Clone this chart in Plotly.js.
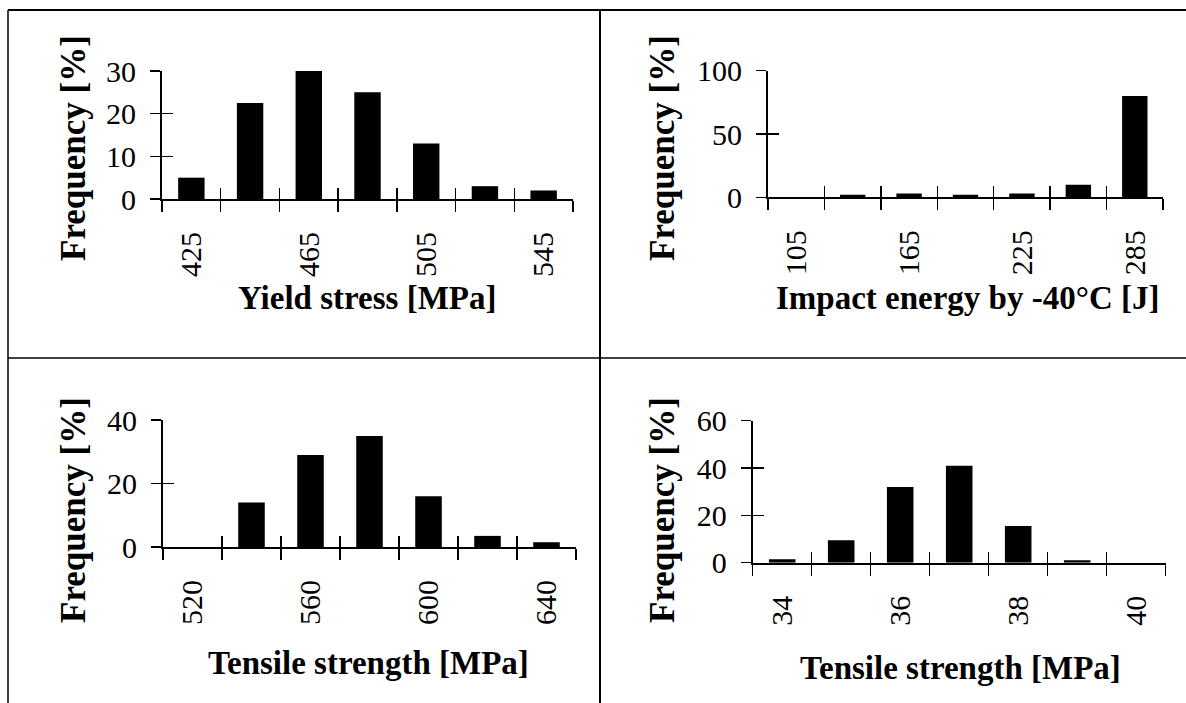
<!DOCTYPE html>
<html>
<head>
<meta charset="utf-8">
<script src="https://cdn.plot.ly/plotly-3.0.1.min.js"></script>
<style>
  html, body { margin: 0; padding: 0; background: #fff; }
  #chart { width: 1186px; height: 703px; }
</style>
</head>
<body>
<div id="chart"></div>
<script>
// ---- Data ----
const yieldCategories   = [425, 445, 465, 485, 505, 525, 545];
const yieldFrequency    = [5, 22.5, 30, 25, 13, 3, 2];
const yieldTickLabels   = [425, 465, 505, 545];
const yieldYTicks       = [0, 10, 20, 30];

const impactCategories  = [105, 135, 165, 195, 225, 255, 285];
const impactFrequency   = [0, 2, 3, 2, 3, 10, 80];
const impactTickLabels  = [105, 165, 225, 285];
const impactYTicks      = [0, 50, 100];

const tensileCategories = [520, 540, 560, 580, 600, 620, 640];
const tensileFrequency  = [0, 14, 29, 35, 16, 3.5, 1.5];
const tensileTickLabels = [520, 560, 600, 640];
const tensileYTicks     = [0, 20, 40];

const tensile2Categories = [34, 35, 36, 37, 38, 39, 40];
const tensile2Frequency  = [1.5, 9.5, 32, 41, 15.5, 1, 0];
const tensile2TickLabels = [34, 36, 38, 40];
const tensile2YTicks     = [0, 20, 40, 60];

const xTitles = ['Yield stress [MPa]', 'Impact energy by -40°C [J]', 'Tensile strength [MPa]', 'Tensile strength [MPa]'];
const yTitle = 'Frequency [%]';

// ---- Layout helpers ----
const W = 1186, H = 703;
const FONT = 'Liberation Serif, Times New Roman, serif';
const px = v => v / W;
const py = v => 1 - v / H;
const id = n => (n === 1 ? '' : String(n));

const panels = [
  {cats: yieldCategories, freq: yieldFrequency, labels: yieldTickLabels, yticks: yieldYTicks,
   xPx: [162, 573], yPx: [71, 199], xt: [367, 298], yt: [73, 148]},
  {cats: impactCategories, freq: impactFrequency, labels: impactTickLabels, yticks: impactYTicks,
   xPx: [768, 1163], yPx: [70.7, 197.3], xt: [967, 298], yt: [662, 148]},
  {cats: tensileCategories, freq: tensileFrequency, labels: tensileTickLabels, yticks: tensileYTicks,
   xPx: [163, 576], yPx: [420, 547], xt: [368, 663], yt: [73, 510]},
  {cats: tensile2Categories, freq: tensile2Frequency, labels: tensile2TickLabels, yticks: tensile2YTicks,
   xPx: [752.7, 1165.7], yPx: [420.7, 562.7], xt: [960, 668], yt: [662, 510]}
];

const traces = [];
const layout = {
  width: W, height: H,
  margin: {l: 0, r: 0, t: 0, b: 0},
  paper_bgcolor: '#fff', plot_bgcolor: 'rgba(0,0,0,0)',
  showlegend: false,
  hovermode: false,
  bargap: 0.55,
  font: {family: FONT, color: '#000', size: 27},
  annotations: [],
  shapes: [
    {type: 'line', xref: 'paper', yref: 'paper', x0: px(8), x1: 1, y0: py(10), y1: py(10), line: {color: '#000', width: 2}},
    {type: 'line', xref: 'paper', yref: 'paper', x0: px(8), x1: 1, y0: py(358), y1: py(358), line: {color: '#000', width: 1.5}},
    {type: 'line', xref: 'paper', yref: 'paper', x0: px(8), x1: px(8), y0: py(10), y1: 0, line: {color: '#000', width: 1.5}},
    {type: 'line', xref: 'paper', yref: 'paper', x0: px(600), x1: px(600), y0: py(10), y1: 0, line: {color: '#000', width: 2}}
  ]
};

panels.forEach((p, i) => {
  const n = i + 1;
  const xa = 3 * n - 2, xb = 3 * n - 1, xc = 3 * n;
  const ya = 2 * n - 1, yb = 2 * n;
  const step = p.cats[1] - p.cats[0];
  const xRange = [p.cats[0] - step / 2, p.cats[p.cats.length - 1] + step / 2];
  const edges = p.cats.map(c => c - step / 2).concat([p.cats[p.cats.length - 1] + step / 2]);
  const yMax = p.yticks[p.yticks.length - 1];
  const yRange = [0, yMax];

  traces.push({
    type: 'bar', x: p.cats, y: p.freq,
    xaxis: 'x' + id(xa), yaxis: 'y' + id(ya),
    marker: {color: '#000', line: {width: 0}},
    hoverinfo: 'skip'
  });
  // empty traces so that the overlay axes (crossing ticks / centred labels) get drawn
  [['x' + id(xb), 'y' + id(ya)], ['x' + id(xc), 'y' + id(ya)], ['x' + id(xa), 'y' + id(yb)]].forEach(([xx, yy]) => {
    traces.push({type: 'scatter', mode: 'markers', x: [], y: [], xaxis: xx, yaxis: yy, hoverinfo: 'skip', showlegend: false});
  });

  const xDomain = [px(p.xPx[0]), px(p.xPx[1])];
  const yDomain = [py(p.yPx[1]), py(p.yPx[0])];

  layout['xaxis' + id(xa)] = {
    domain: xDomain, anchor: 'y' + id(ya), range: xRange, autorange: false,
    showline: true, linecolor: '#000', linewidth: 2,
    tickmode: 'array', tickvals: edges, ticks: 'outside', ticklen: 11, tickwidth: 1.5, tickcolor: '#000',
    showticklabels: false, showgrid: false, zeroline: false, fixedrange: true
  };
  layout['xaxis' + id(xb)] = {
    overlaying: 'x' + id(xa), anchor: 'y' + id(ya), range: xRange, autorange: false,
    showline: false, tickmode: 'array', tickvals: edges, ticks: 'inside', ticklen: 11, tickwidth: 1.5, tickcolor: '#000',
    showticklabels: false, showgrid: false, zeroline: false, fixedrange: true
  };
  layout['xaxis' + id(xc)] = {
    overlaying: 'x' + id(xa), anchor: 'y' + id(ya), range: xRange, autorange: false,
    showline: false, tickmode: 'array', tickvals: p.labels, ticktext: p.labels.map(String),
    ticks: '', tickangle: -90, ticklabelstandoff: 26,
    tickfont: {family: FONT, size: 30, color: '#000'},
    showgrid: false, zeroline: false, fixedrange: true
  };
  layout['yaxis' + id(ya)] = {
    domain: yDomain, anchor: 'x' + id(xa), range: yRange, autorange: false,
    showline: true, linecolor: '#000', linewidth: 2,
    tickmode: 'array', tickvals: p.yticks, ticks: 'outside', ticklen: 10, tickwidth: 1.5, tickcolor: '#000',
    ticklabelstandoff: 8,
    tickfont: {family: FONT, size: 30, color: '#000'},
    showgrid: false, zeroline: false, fixedrange: true
  };
  layout['yaxis' + id(yb)] = {
    overlaying: 'y' + id(ya), anchor: 'x' + id(xa), range: yRange, autorange: false,
    showline: false, tickmode: 'array', tickvals: p.yticks, ticks: 'inside', ticklen: 11, tickwidth: 1.5, tickcolor: '#000',
    showticklabels: false, showgrid: false, zeroline: false, fixedrange: true
  };

  layout.annotations.push({
    xref: 'paper', yref: 'paper', x: px(p.xt[0]), y: py(p.xt[1]),
    xanchor: 'center', yanchor: 'middle', showarrow: false,
    text: '<b>' + xTitles[i] + '</b>', font: {family: FONT, size: 33, color: '#000'}
  });
  layout.annotations.push({
    xref: 'paper', yref: 'paper', x: px(p.yt[0]), y: py(p.yt[1]),
    xanchor: 'center', yanchor: 'middle', showarrow: false, textangle: -90,
    text: '<b>' + yTitle + '</b>', font: {family: FONT, size: 35, color: '#000'}
  });
});

Plotly.newPlot('chart', traces, layout, {displayModeBar: false, staticPlot: true});
</script>
</body>
</html>
